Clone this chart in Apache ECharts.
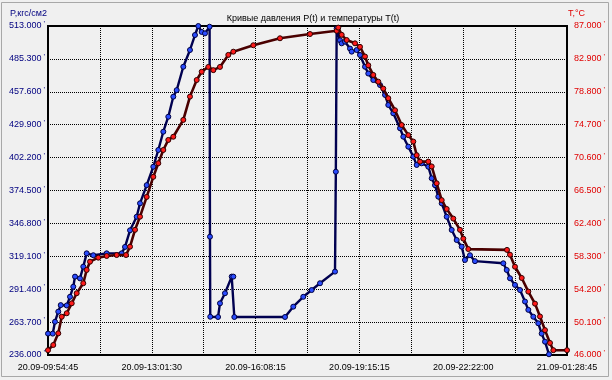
<!DOCTYPE html>
<html><head><meta charset="utf-8">
<script src="https://cdn.jsdelivr.net/npm/echarts@6/dist/echarts.min.js"></script>
<style>html,body{margin:0;padding:0;background:#f0f0f0}#c{width:612px;height:380px}</style>
</head><body><div id="c"></div><script>
const chartTitle = 'Кривые давления P(t) и температуры T(t)';
const pAxisName = 'P,кгс/см2';
const tAxisName = 'T,°C';
const xTickLabels = ['20.09-09:54:45','20.09-13:01:30','20.09-16:08:15','20.09-19:15:15','20.09-22:22:00','21.09-01:28:45'];
const pTicks = [236, 263.7, 291.4, 319.1, 346.8, 374.5, 402.2, 429.9, 457.6, 485.3, 513];
const tTicks = [46, 50.1, 54.2, 58.3, 62.4, 66.5, 70.6, 74.7, 78.8, 82.9, 87];
const totalMinutes = 934;
// [minutes from 20.09-09:54:45, P kgf/cm2]
const pressure = [[0,254],[8.5,254],[12.6,264],[18.5,272.5],[22.9,278],[33.7,277.7],[39.6,285],[45.5,293.5],[48.6,302],[57.6,300.5],[63.5,310.4],[69.6,321.6],[81.5,320],[105.6,321.6],[132.6,321.6],[138.6,327],[147.6,341],[159.6,352.4],[165.6,363.7],[177.6,379],[189.5,394.5],[198.5,408.6],[207.5,424],[216.5,436.6],[225.5,453.5],[231.6,459],[243.5,478.7],[255.5,492.8],[264.5,505.4],[270.5,513],[276.6,508],[282.5,506.8],[290.8,512.4],[291.5,335.6],[292,268.2],[306,268],[309.5,279.5],[318.5,288],[330.6,302],[333.5,302],[335.3,268],[426.5,268],[441.4,276.7],[459.4,285],[474.5,290.7],[489.5,296.4],[516.5,306.2],[518,390.3],[519.5,511],[525.5,501],[528.5,498.4],[534.5,499.8],[543.5,494],[546.5,491.4],[555.5,492.8],[561.5,488.6],[570.5,478.7],[576.4,473],[585.4,467.5],[597.5,463.3],[606.5,455],[612.4,446.5],[621.4,439.5],[633.5,426.9],[639.4,419.8],[648.4,411.4],[657.4,403],[663.5,396],[672.5,397.4],[684.4,394.5],[690.5,384.8],[696.4,379],[702.4,369.3],[708.5,363.7],[717.5,352.4],[726.5,341.3],[735.5,332.8],[744.5,327.2],[750.4,316],[759.4,320],[768.4,315],[819.4,313.2],[825.5,307.6],[831.4,300.6],[840.4,295],[849.4,290.7],[858.4,281],[864.4,274],[873.4,268.2],[882.3,262.7],[888.4,254],[894.4,247.2],[901.6,236.6]];
// [minutes from start, T °C]
const temperature = [[0,46.6],[9.5,47.25],[18.5,48.7],[24.7,50.77],[33.7,51.2],[42.7,52.44],[51.6,53.7],[63.5,54.94],[69.6,56.6],[75.6,57.63],[90.5,58.13],[105.6,58.34],[123.6,58.46],[140.4,58.46],[147.6,59.5],[156.6,61.6],[165.6,63.24],[177.6,65.7],[189.5,68.2],[198.5,69.9],[207.5,71.55],[216.5,72.8],[225.5,73.2],[243.5,75.3],[255.5,78.2],[267.6,80.27],[276.6,81.3],[288.5,81.9],[297.5,81.5],[309.5,81.9],[324.5,83.4],[333.5,83.8],[369.5,84.6],[417.5,85.47],[471.5,86],[519.5,86.4],[522.4,86.8],[528.5,85.9],[537.5,85.25],[552.5,84.84],[561.5,84.4],[570.5,83.2],[576.4,82.1],[585.4,80.9],[594.4,80.06],[603.4,79.2],[612.4,78],[624.5,76.5],[636.5,74.66],[648.4,73.4],[657.4,72.6],[663.5,70.9],[669.5,70.1],[684.4,70.1],[690.5,69.5],[699.5,67.4],[708.5,65.3],[717.5,64.2],[729.4,63],[741.4,61.6],[747.4,60.5],[756.4,59.2],[826,59.1],[831.4,58.5],[840.4,57],[852.5,55.6],[864.4,53.9],[876.4,52.4],[885.4,50.8],[894.4,49.1],[903.4,47.5],[909.4,46.6],[934,46.6]];

const toSec = arr => arr.map(d => [Math.round(d[0] * 60), d[1]]);
const totalSec = totalMinutes * 60;
const step = totalSec / 10;

const chart = echarts.init(document.getElementById('c'), null, {renderer: 'canvas'});
const FONT = 'Liberation Sans, Arial, sans-serif';
const gridLine = {show: true, lineStyle: {color: '#000', width: 1, type: [1, 1]}};
chart.setOption({
  animation: false,
  backgroundColor: '#f0f0f0',
  title: {text: chartTitle, left: 308, top: 9, textAlign: 'center',
    textStyle: {fontFamily: FONT, fontSize: 9, fontWeight: 'normal', color: '#000'}},
  grid: {left: 48, right: 45, top: 26, bottom: 25, show: true, borderColor: '#000', borderWidth: 2,
    backgroundColor: 'transparent', outerBoundsMode: 'none', containLabel: false},
  graphic: [
    {type: 'rect', shape: {x: 1.5, y: 2.5, width: 607, height: 374}, style: {fill: 'none', stroke: '#a8a8a8', lineWidth: 1}, silent: true, z: -1},
    {type: 'text', left: 10, top: 9, style: {text: pAxisName, fill: '#000080', font: '9px ' + FONT}},
    {type: 'text', left: 568, top: 9, style: {text: tAxisName, fill: '#e00000', font: '9px ' + FONT}}
  ],
  xAxis: {
    type: 'value', min: 0, max: totalSec, interval: step,
    axisLine: {show: false}, axisTick: {show: false},
    splitLine: gridLine,
    axisLabel: {
      margin: 8, color: '#000', fontFamily: 'Liberation Sans Narrow, Arial Narrow, ' + FONT, fontSize: 9,
      showMinLabel: true, showMaxLabel: true,
      formatter: v => { const i = Math.round(v / step); return i % 2 === 0 ? xTickLabels[i / 2] : ''; }
    }
  },
  yAxis: [
    {
      type: 'value', min: pTicks[0], max: pTicks[pTicks.length - 1], position: 'left',
      axisLine: {show: false},
      axisTick: {show: false, customValues: pTicks},
      splitLine: gridLine,
      axisLabel: {
        customValues: pTicks, margin: 3, color: '#000080', fontFamily: FONT, fontSize: 9,
        formatter: v => '{a|' + v.toFixed(3) + '}{b|\'}',
        rich: {a: {fontSize: 9, color: '#000080', fontFamily: FONT}, b: {fontSize: 8, color: '#000080', padding: [0, 0, 4, 2], fontFamily: FONT}}
      }
    },
    {
      type: 'value', min: tTicks[0], max: tTicks[tTicks.length - 1], position: 'right',
      axisLine: {show: false},
      axisTick: {show: false, customValues: tTicks},
      splitLine: {show: false},
      axisLabel: {
        customValues: tTicks, margin: 7, color: '#e00000', fontFamily: FONT, fontSize: 9,
        formatter: v => '{a|' + v.toFixed(3) + '}{b|\'}',
        rich: {a: {fontSize: 9, color: '#e00000', fontFamily: FONT}, b: {fontSize: 8, color: '#e00000', padding: [0, 0, 4, 2], fontFamily: FONT}}
      }
    }
  ],
  series: [
    {
      name: 'P', type: 'line', yAxisIndex: 0, data: toSec(pressure),
      symbol: 'circle', symbolSize: 5, showAllSymbol: true,
      lineStyle: {color: '#000050', width: 2.4},
      itemStyle: {color: '#2a4cff', borderColor: '#000040', borderWidth: 1},
      z: 3
    },
    {
      name: 'T', type: 'line', yAxisIndex: 1, data: toSec(temperature),
      symbol: 'circle', symbolSize: 5, showAllSymbol: true,
      lineStyle: {color: '#4a0000', width: 2.6},
      itemStyle: {color: '#ff1a1a', borderColor: '#300000', borderWidth: 1},
      z: 4
    }
  ]
});
</script></body></html>
